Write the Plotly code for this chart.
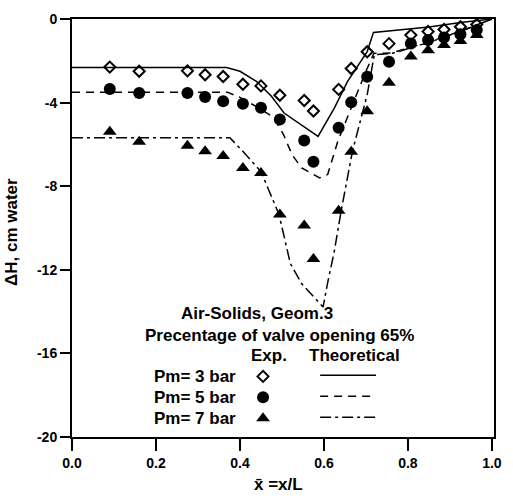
import plotly.graph_objects as go

# Measured axial positions (x/L) of the pressure taps
x_exp = [0.09, 0.16, 0.275, 0.317, 0.36, 0.407, 0.45, 0.495, 0.553, 0.575,
         0.635, 0.665, 0.703, 0.755, 0.807, 0.848, 0.886, 0.925, 0.964]

# Experimental pressure drop, cm water
dh_exp_3bar = [-2.30, -2.50, -2.48, -2.67, -2.75, -3.12, -3.20, -3.65, -3.90, -4.40,
               -3.37, -2.37, -1.57, -1.18, -0.77, -0.60, -0.50, -0.37, -0.26]
dh_exp_5bar = [-3.35, -3.54, -3.54, -3.73, -3.93, -4.05, -4.25, -4.81, -5.81, -6.83,
               -5.20, -3.98, -2.76, -2.05, -1.17, -1.00, -0.89, -0.73, -0.53]
dh_exp_7bar = [-5.40, -5.87, -6.07, -6.33, -6.55, -7.13, -7.37, -9.35, -9.88, -11.48,
               -9.17, -6.35, -4.41, -3.05, -1.80, -1.50, -1.24, -1.05, -0.77]

# Theoretical predictions
x_th_3bar = [0.0, 0.368, 0.40, 0.44, 0.475, 0.505, 0.586, 0.625, 0.656, 0.703, 0.718,
             0.76, 0.85, 0.93, 1.0]
dh_th_3bar = [-2.32, -2.32, -2.50, -3.00, -3.70, -4.50, -5.62, -4.25, -3.00, -1.56, -0.64,
              -0.56, -0.38, -0.16, 0.0]

x_th_5bar = [0.0, 0.37, 0.40, 0.44, 0.48, 0.504, 0.524, 0.547, 0.59, 0.609, 0.633, 0.664,
             0.70, 0.719, 0.76, 0.85, 0.93, 1.0]
dh_th_5bar = [-3.50, -3.50, -3.75, -4.20, -4.70, -5.54, -6.49, -7.13, -7.60, -7.44, -5.85,
              -4.27, -2.50, -1.64, -1.63, -1.10, -0.55, 0.0]

x_th_7bar = [0.0, 0.376, 0.41, 0.45, 0.493, 0.509, 0.52, 0.547, 0.598, 0.609, 0.625,
             0.641, 0.668, 0.703, 0.72, 0.76, 0.85, 0.93, 1.0]
dh_th_7bar = [-5.68, -5.68, -6.40, -7.30, -9.35, -10.76, -11.70, -12.67, -13.78, -12.60,
              -11.08, -9.18, -6.32, -3.62, -1.70, -1.66, -1.12, -0.56, 0.0]

series_labels = ["Pm= 3 bar", "Pm= 5 bar", "Pm= 7 bar"]

x_ticks = [0.0, 0.2, 0.4, 0.6, 0.8, 1.0]
x_ticktext = ["0.0", "0.2", "0.4", "0.6", "0.8", "1.0"]
y_ticks = [0, -4, -8, -12, -16, -20]
y_ticktext = ["0", "-4", "-8", "-12", "-16", "-20"]

FONT = "Liberation Sans, Arial, sans-serif"
BLACK = "#000000"

line_dashes = ["solid", "8px,6px", "11px,4px,3px,4px"]
marker_styles = [
    dict(symbol="diamond-open", size=8.5, color=BLACK, line=dict(width=2, color=BLACK)),
    dict(symbol="circle", size=12, color=BLACK, line=dict(width=0)),
    dict(symbol="triangle-up", size=12, color=BLACK, line=dict(width=0)),
]

fig = go.Figure()

theory = [(x_th_3bar, dh_th_3bar), (x_th_5bar, dh_th_5bar), (x_th_7bar, dh_th_7bar)]
for (xs, ys), dash in zip(theory, line_dashes):
    fig.add_trace(go.Scatter(x=xs, y=ys, mode="lines",
                             line=dict(color=BLACK, width=1.5, dash=dash),
                             showlegend=False, hoverinfo="skip"))

experiments = [dh_exp_3bar, dh_exp_5bar, dh_exp_7bar]
for ys, mk, name in zip(experiments, marker_styles, series_labels):
    fig.add_trace(go.Scatter(x=x_exp, y=ys, mode="markers", marker=mk,
                             name=name, showlegend=False))

# Hand-laid key inside the plot area
key_rows_y = [-17.1, -18.1, -19.1]
key_marker_x = 0.455
key_line_x = (0.591, 0.724)
text_font = dict(family=FONT, size=17, color=BLACK, weight="bold")

for ry, mk, dash, label in zip(key_rows_y, marker_styles, line_dashes, series_labels):
    fig.add_trace(go.Scatter(x=[key_marker_x], y=[ry], mode="markers", marker=mk,
                             showlegend=False, hoverinfo="skip"))
    fig.add_trace(go.Scatter(x=list(key_line_x), y=[ry + 0.05, ry + 0.05], mode="lines",
                             line=dict(color=BLACK, width=1.5, dash=dash),
                             showlegend=False, hoverinfo="skip"))
    fig.add_annotation(x=0.396, y=ry, text=label, showarrow=False,
                       xanchor="right", yanchor="middle", font=text_font)

fig.add_annotation(x=0.44, y=-14.1, text="Air-Solids, Geom.3", showarrow=False,
                   xanchor="center", yanchor="middle", font=text_font)
fig.add_annotation(x=0.493, y=-15.15, text="Precentage of valve opening 65%",
                   showarrow=False, xanchor="center", yanchor="middle", font=text_font)
fig.add_annotation(x=0.469, y=-16.1, text="Exp.", showarrow=False,
                   xanchor="center", yanchor="middle", font=text_font)
fig.add_annotation(x=0.673, y=-16.1, text="Theoretical", showarrow=False,
                   xanchor="center", yanchor="middle", font=text_font)

# Axis titles
fig.add_annotation(xref="paper", yref="paper", x=-0.145, y=0.49,
                   text="\u0394H, cm water", textangle=-90, showarrow=False,
                   xanchor="center", yanchor="middle", font=text_font)
fig.add_annotation(xref="paper", yref="paper", x=0.49, y=-0.114,
                   text="x\u0304 =x/L", showarrow=False,
                   xanchor="center", yanchor="middle", font=text_font)

tick_font = dict(family=FONT, size=14, color=BLACK, weight="bold")

fig.update_xaxes(range=[0, 1.005], tickvals=x_ticks, ticktext=x_ticktext,
                 ticks="outside", ticklen=12, tickwidth=2, tickcolor=BLACK,
                 showline=True, linewidth=2, linecolor=BLACK, mirror=True,
                 showgrid=False, zeroline=False, tickfont=tick_font)
fig.update_yaxes(range=[-20, 0], tickvals=y_ticks, ticktext=y_ticktext,
                 ticks="outside", ticklen=10, tickwidth=2, tickcolor=BLACK,
                 showline=True, linewidth=2, linecolor=BLACK, mirror=True,
                 showgrid=False, zeroline=False, tickfont=tick_font)

fig.update_layout(width=513, height=498,
                  margin=dict(l=72, r=11, t=17, b=61),
                  paper_bgcolor="white", plot_bgcolor="white",
                  font=dict(family=FONT, color=BLACK))

fig.write_html("out.html")
